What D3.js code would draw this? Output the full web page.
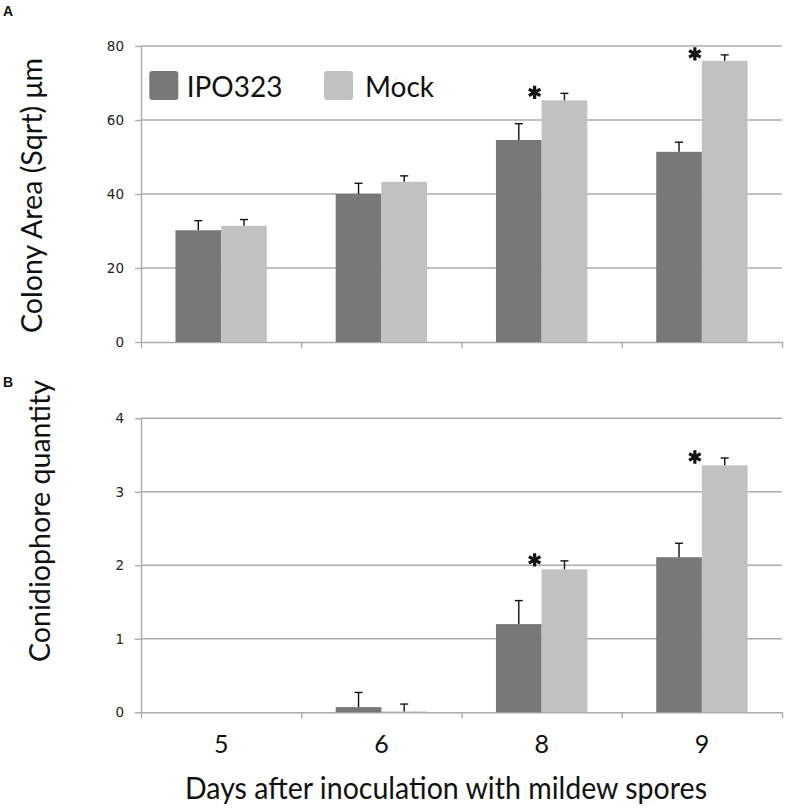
<!DOCTYPE html>
<html><head><meta charset="utf-8">
<script src="https://cdn.jsdelivr.net/npm/d3@7"></script>
<style>body{margin:0;background:#fff;}svg{display:block;}</style>
</head><body>
<svg id="chart" width="787" height="809"></svg>
<script>
// ---- data ----
const days = ["5", "6", "8", "9"];
const seriesNames = ["IPO323", "Mock"];
const colonyIPO = [30.2, 40.0, 54.6, 51.4];
const colonyIPOErr = [2.6, 2.9, 4.4, 2.6];
const colonyMock = [31.4, 43.3, 65.3, 76.0];
const colonyMockErr = [1.7, 1.6, 1.9, 1.6];
const conidIPO = [0, 0.07, 1.20, 2.11];
const conidIPOErr = [0, 0.20, 0.32, 0.19];
const conidMock = [0, 0.012, 1.945, 3.36];
const conidMockErr = [0, 0.10, 0.115, 0.10];
const colonyTicks = [0, 20, 40, 60, 80];
const conidTicks = [0, 1, 2, 3, 4];
const colonySig = [false, false, true, true];
const conidSig = [false, false, true, true];

const colors = {IPO323: "#787878", Mock: "#c1c1c1"};
const gridColor = "#ababab";
const svg = d3.select("#chart");
const left = 141, right = 782;

const x = d3.scaleBand().domain(days).range([left, right]).paddingInner(0.43).paddingOuter(0.215);
const xs = d3.scaleBand().domain(seriesNames).range([0, x.bandwidth()]);

function panel(cfg) {
  const y = d3.scaleLinear().domain([cfg.ticks[0], cfg.ticks[cfg.ticks.length - 1]]).range([cfg.y0, cfg.y1]);
  const g = svg.append("g");
  // gridlines
  g.selectAll(".grid").data(cfg.ticks.slice(1)).join("line")
    .attr("x1", left).attr("x2", right)
    .attr("y1", d => y(d)).attr("y2", d => y(d))
    .attr("stroke", gridColor).attr("stroke-width", 1.4);
  // y axis
  const ya = g.append("g").attr("transform", `translate(${left},0)`)
    .call(d3.axisLeft(y).tickValues(cfg.ticks).tickSize(6).tickSizeOuter(0).tickPadding(11).tickFormat(d3.format("d")));
  ya.select(".domain").attr("stroke", gridColor).attr("stroke-width", 1.4);
  ya.selectAll(".tick line").attr("stroke", gridColor).attr("stroke-width", 1.4);
  ya.selectAll("text").attr("font-family", "DejaVu Sans, Verdana, sans-serif").attr("font-size", 13.5).attr("fill", "#222");
  // x axis boundaries
  const xb = d3.scaleLinear().domain([0, days.length]).range([left, right]);
  const xa = g.append("g").attr("transform", `translate(0,${y(0)})`)
    .call(d3.axisBottom(xb).ticks(days.length).tickSize(6).tickSizeOuter(0).tickFormat(""));
  xa.select(".domain").attr("stroke", gridColor).attr("stroke-width", 1.4);
  xa.selectAll(".tick line").attr("stroke", gridColor).attr("stroke-width", 1.4);

  const rows = days.map((d, i) => ({
    day: d,
    vals: [
      {s: "IPO323", v: cfg.ipo[i], e: cfg.ipoErr[i]},
      {s: "Mock", v: cfg.mock[i], e: cfg.mockErr[i]}
    ],
    sig: cfg.sig[i]
  }));
  const grp = g.selectAll(".grp").data(rows).join("g").attr("transform", d => `translate(${x(d.day)},0)`);
  grp.selectAll("rect").data(d => d.vals).join("rect")
    .attr("x", d => xs(d.s)).attr("width", xs.bandwidth())
    .attr("y", d => y(d.v)).attr("height", d => y(0) - y(d.v))
    .attr("fill", d => colors[d.s]);
  const eb = grp.selectAll(".err").data(d => d.vals.filter(v => v.e > 0)).join("g");
  eb.append("line")
    .attr("x1", d => xs(d.s) + xs.bandwidth() / 2).attr("x2", d => xs(d.s) + xs.bandwidth() / 2)
    .attr("y1", d => y(d.v)).attr("y2", d => y(d.v + d.e))
    .attr("stroke", "#111").attr("stroke-width", 1.4);
  eb.append("line")
    .attr("x1", d => xs(d.s) + xs.bandwidth() / 2 - 4).attr("x2", d => xs(d.s) + xs.bandwidth() / 2 + 4)
    .attr("y1", d => y(d.v + d.e)).attr("y2", d => y(d.v + d.e))
    .attr("stroke", "#111").attr("stroke-width", 1.4);
  // significance asterisks
  grp.filter(d => d.sig).append("path")
    .attr("d", d3.symbol(d3.symbolAsterisk, 125)())
    .attr("transform", d => `translate(${x.bandwidth() / 2 - 7},${y(d.vals[1].v + d.vals[1].e) - 1})`)
    .attr("fill", "none").attr("stroke", "#111").attr("stroke-width", 3.2);
  // y title
  svg.append("text")
    .attr("transform", `translate(${cfg.titleX},${cfg.titleY}) rotate(-90)`)
    .attr("text-anchor", "middle")
    .attr("font-family", "Lato, 'Open Sans', sans-serif").attr("font-size", 28).attr("fill", "#111")
    .attr("textLength", cfg.titleLen).attr("lengthAdjust", "spacingAndGlyphs")
    .text(cfg.title);
  // panel letter
  svg.append("text").attr("x", 3).attr("y", cfg.letterY)
    .attr("font-family", "Liberation Sans, Arial, sans-serif").attr("font-weight", "bold").attr("font-size", 14).attr("fill", "#111")
    .text(cfg.letter);
  return y;
}

panel({ticks: colonyTicks, y0: 342, y1: 46, ipo: colonyIPO, ipoErr: colonyIPOErr, mock: colonyMock, mockErr: colonyMockErr,
  sig: colonySig, title: "Colony Area (Sqrt) μm", titleX: 41.5, titleY: 195.5, titleLen: 275, letter: "A", letterY: 16});
const yB = panel({ticks: conidTicks, y0: 712.3, y1: 418.3, ipo: conidIPO, ipoErr: conidIPOErr, mock: conidMock, mockErr: conidMockErr,
  sig: conidSig, title: "Conidiophore quantity", titleX: 50, titleY: 521, titleLen: 282, letter: "B", letterY: 387});

// category labels
const ca = svg.append("g").attr("transform", `translate(0,${yB(0)})`)
  .call(d3.axisBottom(x).tickSize(0).tickPadding(23));
ca.select(".domain").remove();
ca.selectAll("text").attr("font-family", "Lato, 'Open Sans', sans-serif").attr("font-size", 25).attr("fill", "#111");

// x title
svg.append("text").attr("x", 446).attr("y", 799).attr("text-anchor", "middle")
  .attr("font-family", "Lato, 'Open Sans', sans-serif").attr("font-size", 30).attr("fill", "#111")
  .attr("textLength", 522).attr("lengthAdjust", "spacingAndGlyphs")
  .text("Days after inoculation with mildew spores");

// legend
const leg = svg.append("g").selectAll("g").data(seriesNames).join("g")
  .attr("transform", (d, i) => `translate(${[149.3, 324][i]},71)`);
leg.append("rect").attr("width", 29).attr("height", 29).attr("rx", 3).attr("fill", d => colors[d]);
leg.append("text").attr("x", (d, i) => [37.4, 41][i]).attr("y", 25.7)
  .attr("font-family", "Lato, 'Open Sans', sans-serif").attr("font-size", 28).attr("fill", "#111")
  .text(d => d);
</script>
</body></html>
